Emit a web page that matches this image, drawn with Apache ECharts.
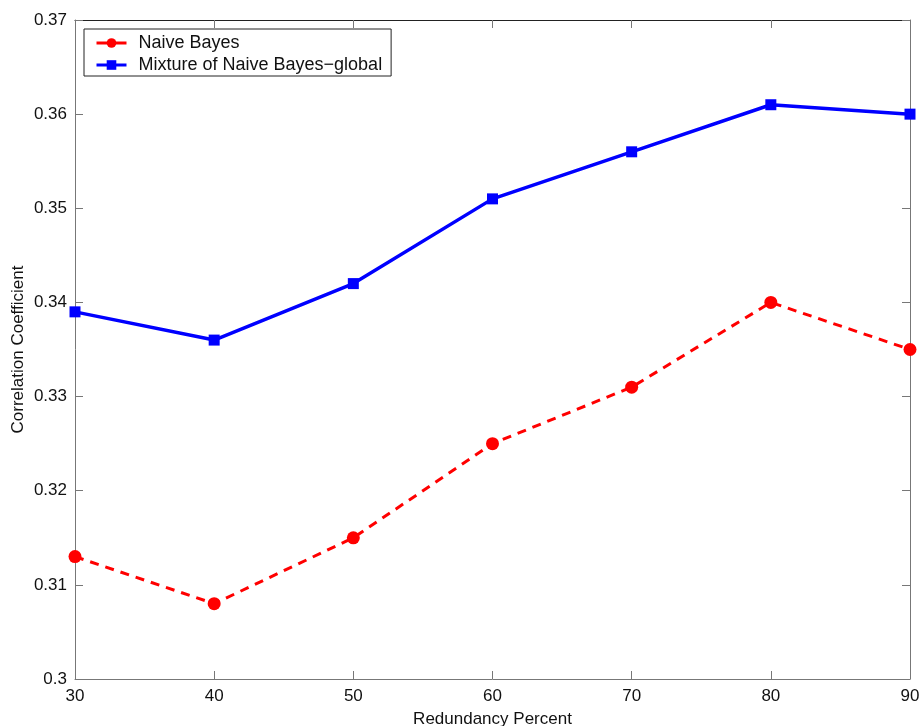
<!DOCTYPE html>
<html>
<head>
<meta charset="utf-8">
<script src="https://cdn.jsdelivr.net/npm/echarts@6/dist/echarts.min.js"></script>
<style>
  html, body { margin: 0; padding: 0; background: #fff; }
  #chart { width: 922px; height: 726px; }
</style>
</head>
<body>
<div id="chart"></div>
<script>
const percents = [30, 40, 50, 60, 70, 80, 90];
const naiveBayes = [0.313, 0.308, 0.315, 0.325, 0.331, 0.340, 0.335];
const mixtureGlobal = [0.339, 0.336, 0.342, 0.351, 0.356, 0.361, 0.360];

const font = "Liberation Sans, Arial, Helvetica, sans-serif";
const axisColor = "#777";

let myChart = echarts.init(document.getElementById("chart"));
const fmtY = (v) => String(parseFloat(v.toFixed(2)));
const pairs = (ys) => percents.map((x, i) => [x, ys[i]]);

let option = {
  animation: false,
  textStyle: { fontFamily: font },
  grid: { left: 75, right: 12, top: 20, bottom: 47, outerBoundsMode: "none", containLabel: false },
  legend: {
    left: 84,
    top: 29,
    orient: "vertical",
    backgroundColor: "#fff",
    borderColor: "#222",
    borderWidth: 1,
    borderRadius: 0,
    padding: [5, 9, 2, 11],
    itemGap: 4,
    itemWidth: 30,
    itemHeight: 12,
    lineStyle: { type: "solid", width: 3 },
    textStyle: { fontSize: 18, color: "#111", fontFamily: font, padding: [0, 0, 0, 7] },
    data: ["Naive Bayes", "Mixture of Naive Bayes\u2212global"],
  },
  xAxis: [
    {
      type: "value",
      min: 30,
      max: 90,
      interval: 10,
      name: "Redundancy Percent",
      nameLocation: "middle",
      nameGap: 32,
      nameTextStyle: { fontSize: 17, color: "#111" },
      axisLine: { lineStyle: { color: axisColor, width: 1 } },
      axisTick: { inside: true, length: 8, lineStyle: { color: axisColor } },
      axisLabel: { fontSize: 17, color: "#111", margin: 9 },
      splitLine: { show: false },
    },
    {
      type: "value",
      position: "top",
      min: 30,
      max: 90,
      interval: 10,
      axisLine: { lineStyle: { color: "#222", width: 1 } },
      axisTick: { inside: true, length: 8, lineStyle: { color: axisColor } },
      axisLabel: { show: false },
      splitLine: { show: false },
    },
  ],
  yAxis: [
    {
      type: "value",
      min: 0.3,
      max: 0.37,
      interval: 0.01,
      name: "Correlation Coefficient",
      nameLocation: "middle",
      nameGap: 48,
      nameMoveOverlap: false,
      nameTextStyle: { fontSize: 17, color: "#111" },
      axisLine: { lineStyle: { color: axisColor, width: 1 } },
      axisTick: { inside: true, length: 8, lineStyle: { color: axisColor } },
      axisLabel: { fontSize: 17, color: "#111", margin: 8, formatter: fmtY },
      splitLine: { show: false },
    },
    {
      type: "value",
      position: "right",
      min: 0.3,
      max: 0.37,
      interval: 0.01,
      axisLine: { lineStyle: { color: axisColor, width: 1 } },
      axisTick: { inside: true, length: 8, lineStyle: { color: axisColor } },
      axisLabel: { show: false },
      splitLine: { show: false },
    },
  ],
  series: [
    {
      name: "Naive Bayes",
      type: "line",
      data: pairs(naiveBayes),
      symbol: "circle",
      symbolSize: 13,
      color: "#ff0000",
      lineStyle: { width: 3, type: [9, 7], color: "#ff0000" },
      itemStyle: { color: "#ff0000" },
    },
    {
      name: "Mixture of Naive Bayes\u2212global",
      type: "line",
      data: pairs(mixtureGlobal),
      symbol: "rect",
      symbolSize: 11,
      color: "#0000ff",
      lineStyle: { width: 3.5, color: "#0000ff" },
      itemStyle: { color: "#0000ff" },
    },
  ],
};
myChart.setOption(option);
</script>
</body>
</html>
